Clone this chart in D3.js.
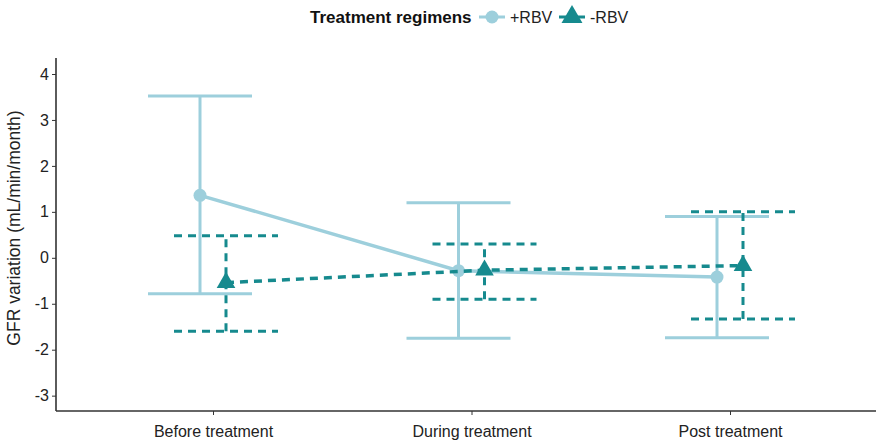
<!DOCTYPE html>
<html>
<head>
<meta charset="utf-8">
<script src="https://cdn.jsdelivr.net/npm/d3@7"></script>
<style>
  body { margin: 0; background: #fff; }
  svg { font-family: "Liberation Sans", Arial, sans-serif; }
</style>
</head>
<body>
<svg width="876" height="445"></svg>
<script>
// data
let periods = ["Before treatment", "During treatment", "Post treatment"]
let rbvPlusMean = [1.36, -0.28, -0.42]
let rbvPlusLow = [-0.78, -1.75, -1.74]
let rbvPlusHigh = [3.52, 1.2, 0.9]
let rbvMinusMean = [-0.54, -0.27, -0.17]
let rbvMinusLow = [-1.6, -0.9, -1.33]
let rbvMinusHigh = [0.48, 0.3, 1.0]
let yTicks = [-3, -2, -1, 0, 1, 2, 3, 4]

let series = [
    { name: "+RBV", color: "#9dcfdc", dash: null, shape: "circle", dx: -13,
      mean: rbvPlusMean, low: rbvPlusLow, high: rbvPlusHigh },
    { name: "-RBV", color: "#168a8e", dash: "8,6", shape: "triangle", dx: 13,
      mean: rbvMinusMean, low: rbvMinusLow, high: rbvMinusHigh }
]

var svg = d3.select("svg")
var padL = 56, padR = 876, padT = 58, padB = 411

var x = d3.scalePoint().domain(periods).range([213, 730])
var y = d3.scaleLinear().domain([0, 4]).range([257.8, 74])

// axes
var yAxis = svg.append("g")
    .attr("transform", "translate(" + padL + ",0)")
    .call(d3.axisLeft(y).tickValues(yTicks).tickFormat(function (d) { return String(d) }).tickSize(4).tickSizeOuter(0))
yAxis.select(".domain").attr("d", "M0," + padT + "V" + padB)
var xAxis = svg.append("g")
    .attr("transform", "translate(0," + padB + ")")
    .call(d3.axisBottom(x).tickSize(4).tickSizeOuter(0))
xAxis.select(".domain").attr("d", "M" + padL + ",0H" + padR)

svg.selectAll(".domain").attr("stroke", "#333").attr("stroke-width", 1.6)
svg.selectAll(".tick line").attr("stroke", "#333").attr("stroke-width", 1)
yAxis.selectAll(".tick text").attr("font-size", 16).attr("fill", "#222").attr("x", -7)
xAxis.selectAll(".tick text").attr("font-size", 16).attr("fill", "#222").attr("dy", "1.2em")

svg.append("text")
    .attr("transform", "translate(20,228) rotate(-90)")
    .attr("text-anchor", "middle")
    .attr("font-size", 17.5)
    .attr("fill", "#222")
    .text("GFR variation (mL/min/month)")

var capHalf = 52
var triangle = d3.symbol().type(d3.symbolTriangle).size(150)

series.forEach(function (s) {
    var g = svg.append("g")
    var pts = periods.map(function (p, i) {
        return { cx: x(p) + s.dx, m: s.mean[i], lo: s.low[i], hi: s.high[i] }
    })
    pts.forEach(function (d) {
        [d.lo, d.hi].forEach(function (v) {
            g.append("line")
                .attr("x1", d.cx - capHalf).attr("x2", d.cx + capHalf)
                .attr("y1", y(v)).attr("y2", y(v))
                .attr("stroke", s.color).attr("stroke-width", 3)
                .attr("stroke-dasharray", s.dash)
        })
        g.append("line")
            .attr("x1", d.cx).attr("x2", d.cx)
            .attr("y1", y(d.lo)).attr("y2", y(d.hi))
            .attr("stroke", s.color).attr("stroke-width", 3)
            .attr("stroke-dasharray", s.dash)
    })
    g.append("path")
        .datum(pts)
        .attr("fill", "none")
        .attr("stroke", s.color)
        .attr("stroke-width", 3.5)
        .attr("stroke-dasharray", s.dash)
        .attr("d", d3.line().x(function (d) { return d.cx }).y(function (d) { return y(d.m) }))
    s.g = g
    s.pts = pts
})

// markers on top
series.forEach(function (s) {
    s.pts.forEach(function (d) {
        if (s.shape === "circle") {
            s.g.append("circle").attr("cx", d.cx).attr("cy", y(d.m)).attr("r", 6.5).attr("fill", s.color)
        } else {
            s.g.append("path").attr("d", triangle)
                .attr("transform", "translate(" + d.cx + "," + y(d.m) + ")")
                .attr("fill", s.color)
        }
    })
})

// legend
var lg = svg.append("g").attr("transform", "translate(0,17)")
lg.append("text").attr("x", 310).attr("y", 6).attr("font-size", 17).attr("font-weight", "bold")
    .attr("fill", "#111").text("Treatment regimens")
var lx = [479, 559]
series.forEach(function (s, i) {
    lg.append("line").attr("x1", lx[i]).attr("x2", lx[i] + 26).attr("y1", 0).attr("y2", 0)
        .attr("stroke", s.color).attr("stroke-width", 3)
    if (s.shape === "circle") {
        lg.append("circle").attr("cx", lx[i] + 13).attr("cy", 0).attr("r", 6.5).attr("fill", s.color)
    } else {
        lg.append("path").attr("d", d3.symbol().type(d3.symbolTriangle).size(190))
            .attr("transform", "translate(" + (lx[i] + 13) + ",0)").attr("fill", s.color)
    }
    lg.append("text").attr("x", lx[i] + 31).attr("y", 6).attr("font-size", 16).attr("fill", "#222").text(s.name)
})
</script>
</body>
</html>
